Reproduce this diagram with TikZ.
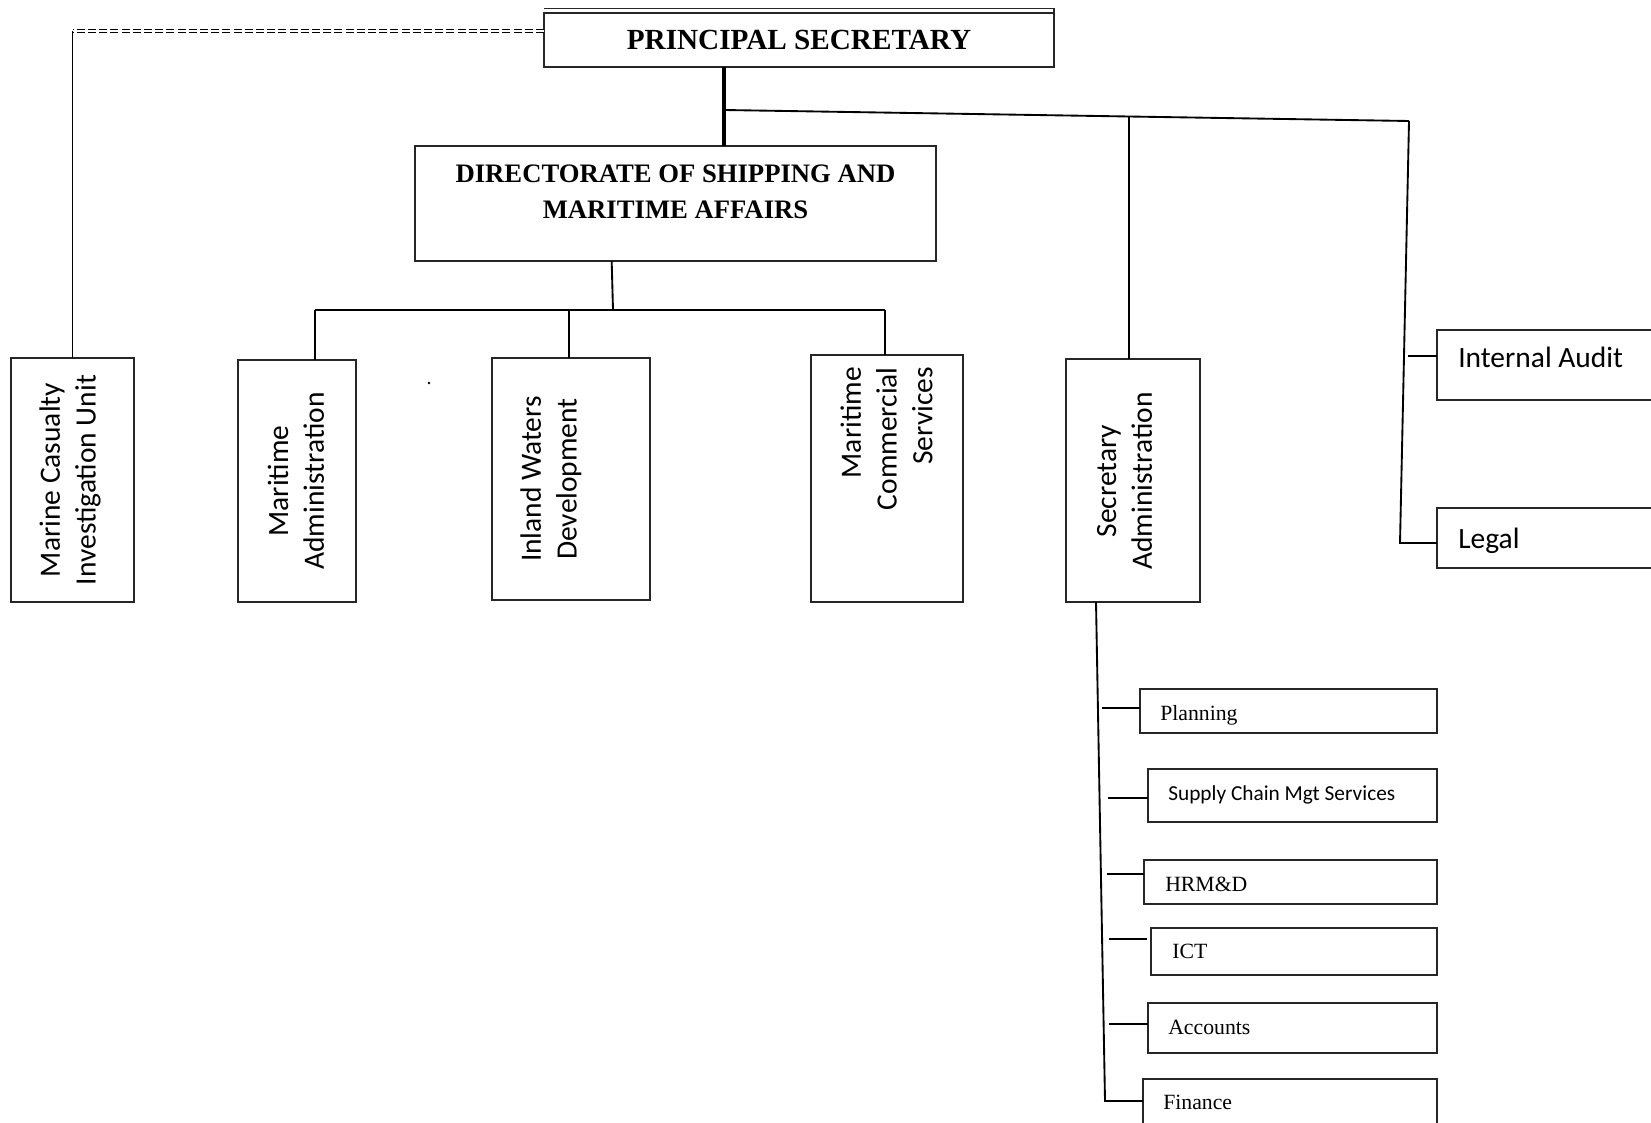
\documentclass[tikz,border=0pt]{standalone}
\usepackage{fontspec}
\setmainfont{Liberation Serif}
\newfontfamily\calib{Carlito}
\newcommand\mkbox[5]{\node[box, minimum width={(#4-#2)*0.75pt}, minimum height={(#5-#3)*0.75pt}] (#1) at ({(#2+#4)/2},{(#3+#5)/2}) {};}
\begin{document}
\begin{tikzpicture}[x=0.75pt,y=-0.75pt,
  box/.style={draw=black!85, line width=1.1pt, fill=white, inner sep=0pt, outer sep=0pt},
  conn/.style={line width=1.4pt, black},
  trunk/.style={line width=2.8pt, black},
  dashline/.style={line width=0.9pt, double=white, double distance=1.0pt, dash pattern=on 6pt off 2.4pt},
  vtext/.style={rotate=90, align=center, inner sep=0pt, font=\calib\fontsize{22.1}{26.8}\selectfont},
  htext/.style={anchor=base west, inner sep=0pt, font=\calib\fontsize{22.1}{26.8}\selectfont},
  stext/.style={anchor=base west, inner sep=0pt, font=\fontsize{16.3}{19}\selectfont},
  ctext/.style={anchor=base west, inner sep=0pt, font=\calib\fontsize{16}{19}\selectfont}]
\useasboundingbox (0,0) rectangle (1651,1123);
\clip (0,0) rectangle (1651,1123);

% boxes
\mkbox{ps}{544}{13}{1054}{67}
\mkbox{dir}{415}{146}{936}{261}
\mkbox{mc}{11}{358}{134}{602}
\mkbox{ma}{238}{360}{356}{602}
\mkbox{iw}{492}{358}{650}{600}
\mkbox{mcs}{811}{355}{963}{602}
\mkbox{sa}{1066}{359}{1200}{602}
\mkbox{ia}{1437}{330}{1665}{400}
\mkbox{lg}{1437}{508}{1665}{568}
\mkbox{pl}{1140}{689}{1437}{733}
\mkbox{sc}{1148}{769}{1437}{822}
\mkbox{hrm}{1144}{860}{1437}{904}
\mkbox{ict}{1151}{928}{1437}{975}
\mkbox{acc}{1148}{1003}{1437}{1053}
\mkbox{fin}{1143}{1079}{1437}{1140}
\draw[draw=black!85, line width=1.1pt] ([yshift=3.2pt]ps.north west) -- ([yshift=3.2pt]ps.north east) -- (ps.north east);

% coordinates
\coordinate (dl) at (72,31);
\coordinate (tk) at (724,110);
\coordinate (tr) at (1409,121);
\coordinate (sj) at (1129,116);
\coordinate (rb) at (1400,543);
\coordinate (it) at (1408,356);
\coordinate (ds) at (613,310);
\coordinate (bl) at (315,310);
\coordinate (bm) at (569,310);
\coordinate (br) at (885,310);
\coordinate (sb) at (1096,602);
\coordinate (se) at (1105,1101);
\coordinate (t1) at (1102,708);
\coordinate (t2) at (1108,798);
\coordinate (t3) at (1107,874);
\coordinate (t4) at (1109,939);
\coordinate (t5) at (1109,1024);

% connectors
\draw[dashline] (ps.west |- dl) -- (mc.north |- dl);
\draw[conn] (mc.north |- dl) -- (mc.north);
\draw[trunk] (ps.south -| tk) -- (dir.north -| tk);
\draw[conn] (tk) -- (tr);
\draw[conn] (sj) -- (sa.north -| sj);
\draw[conn] (tr) -- (rb) -- (lg.west |- rb);
\draw[conn] (it) -- (ia.west |- it);
\draw[conn] ([xshift=-1pt]dir.south -| ds) -- (ds);
\draw[conn] (bl) -- (br);
\draw[conn] (bl) -- (ma.north -| bl);
\draw[conn] (bm) -- (iw.north -| bm);
\draw[conn] (br) -- (mcs.north -| br);
\draw[conn] (sa.south -| sb) -- (se) -- (fin.west |- se);
\draw[conn] (t1) -- (pl.west |- t1);
\draw[conn] (t2) -- (sc.west |- t2);
\draw[conn] (t3) -- (hrm.west |- t3);
\draw[conn] (t4) -- ([xshift=-3pt]ict.west |- t4);
\draw[conn] (t5) -- (acc.west |- t5);
\fill (429,383) circle (1.3);

% texts
\node[anchor=base, inner sep=0pt, font=\bfseries\fontsize{21.9}{26}\selectfont] (pst) at (799,49.5) {PRINCIPAL SECRETARY};
\node[align=center, inner sep=0pt, font=\bfseries\fontsize{20}{27}\selectfont] (dirt) at (675.5,191.5) {DIRECTORATE OF SHIPPING AND\\MARITIME AFFAIRS};
\node[vtext] (mct) at (70,480) {Marine Casualty\\Investigation Unit};
\node[vtext] (mat) at (296,481) {Maritime\\Administration};
\node[vtext] (iwt) at (551,479) {Inland Waters\\Development};
\node[vtext, align=right, anchor=east] (mcst) at (886.5,367) {Maritime\\Commercial\\Services};
\node[vtext] (sat) at (1124.5,481) {Secretary\\Administration};
\node[htext] (iat) at (1458,367) {Internal Audit};
\node[htext] (lgt) at (1458,548) {Legal};
\node[stext] (plt) at (1160,720) {Planning};
\node[ctext] (sct) at (1168,800) {Supply Chain Mgt Services};
\node[stext] (hrmt) at (1165,891) {HRM\&D};
\node[stext] (ictt) at (1172,958) {ICT};
\node[stext] (acct) at (1168,1034) {Accounts};
\node[stext] (fint) at (1163,1109) {Finance};
\end{tikzpicture}
\end{document}
